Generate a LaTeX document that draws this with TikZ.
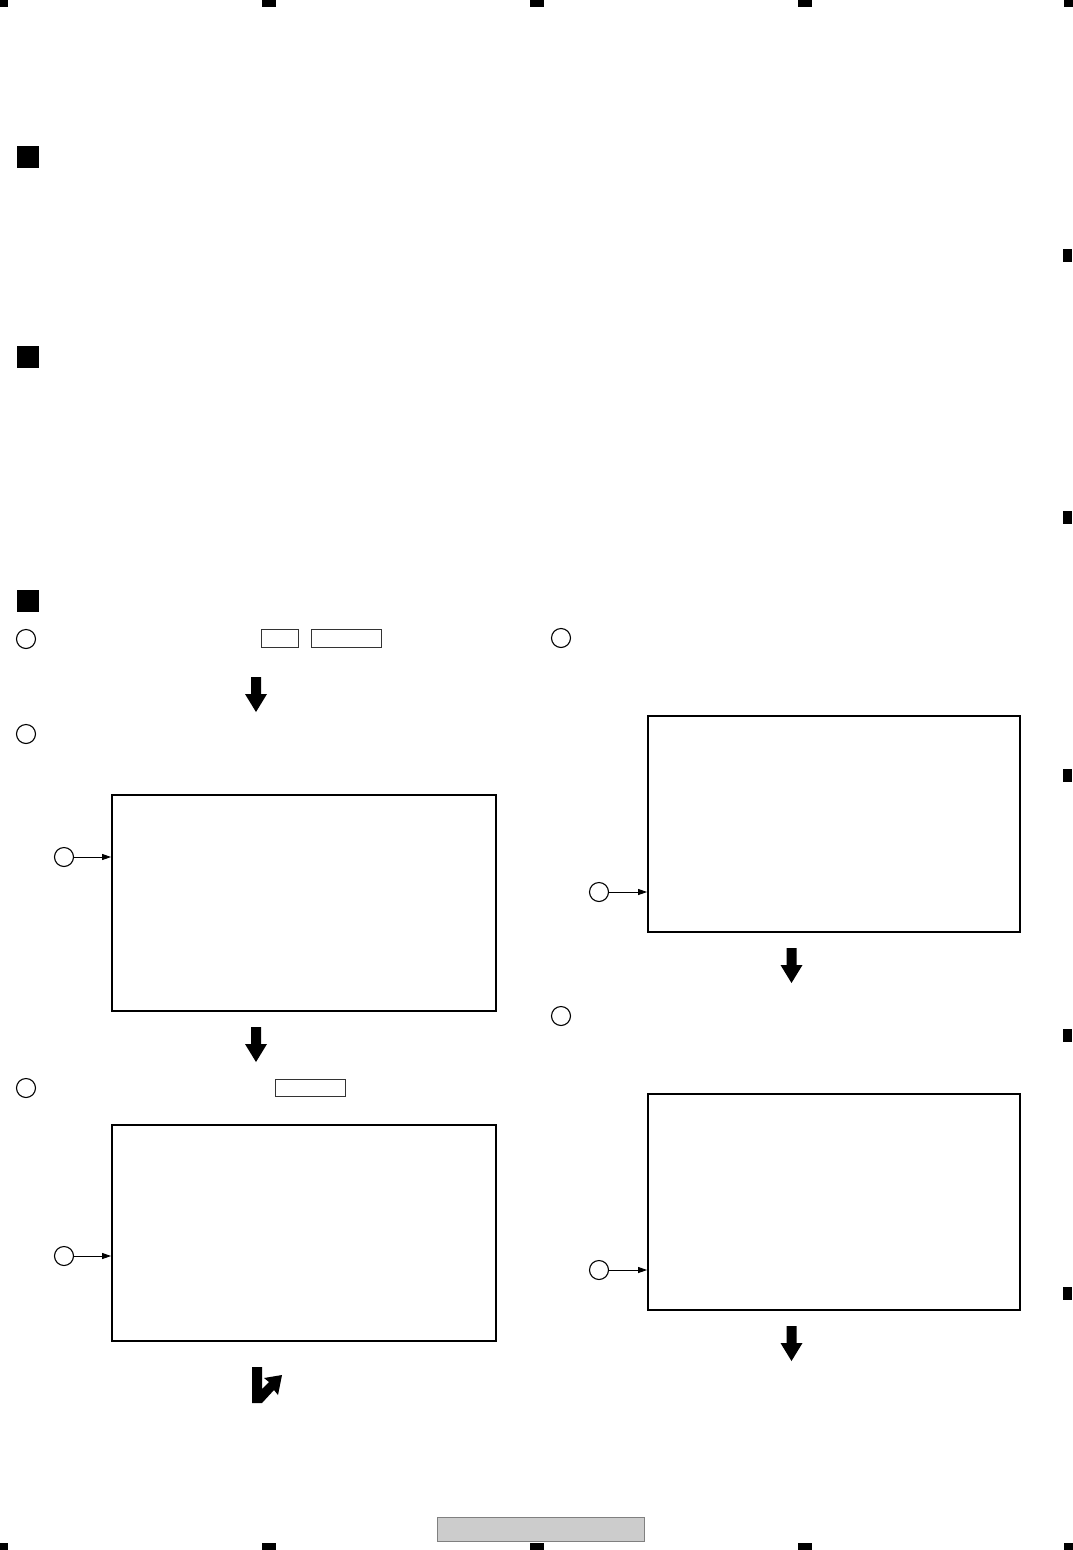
\documentclass[tikz,border=0pt]{standalone}
\usetikzlibrary{arrows.meta}
\begin{document}
\begin{tikzpicture}[x=1pt,y=-1pt,
  mark box/.style={fill=black},
  numcircle/.style={circle,draw=black,line width=1.1pt,minimum size=19pt,inner sep=0pt},
  panel/.style={draw=black,line width=1.8pt},
  keybox/.style={draw=black!80,line width=0.9pt},
  pointer/.style={line width=0.9pt,-{Triangle[length=9pt,width=6pt]}},
  blockarrow/.style={fill=black}]
\useasboundingbox (0,0) rectangle (1073,1550);
% registration marks top
\fill[mark box] (0,0) rectangle (8,7);
\fill[mark box] (262,0) rectangle (276,7);
\fill[mark box] (530,0) rectangle (544,7);
\fill[mark box] (798,0) rectangle (812,7);
\fill[mark box] (1064,0) rectangle (1073,7);
% bottom
\fill[mark box] (0,1543) rectangle (8,1550);
\fill[mark box] (262,1543) rectangle (276,1550);
\fill[mark box] (530,1543) rectangle (544,1550);
\fill[mark box] (798,1543) rectangle (812,1550);
\fill[mark box] (1064,1543) rectangle (1073,1550);
% right side
\foreach \yy in {255,517,775,1035,1293}{\fill[mark box] (1063,\yy-6.5) rectangle (1072,\yy+6.5);}
% section squares
\fill[mark box] (17,146) rectangle (39,168);
\fill[mark box] (17,346) rectangle (39,368);
\fill[mark box] (17,590) rectangle (39,612);
% numbered circles
\node[numcircle] (c1) at (26,639) {};
\node[numcircle] (c2) at (26,734) {};
\node[numcircle] (c3) at (26,1088) {};
\node[numcircle] (c4) at (561,638) {};
\node[numcircle] (c5) at (561,1016) {};
% key boxes
\node[keybox,minimum width=37pt,minimum height=18pt,inner sep=0pt] (k1) at (279.5,638) {};
\node[keybox,minimum width=70pt,minimum height=18pt,inner sep=0pt] (k2) at (346,638) {};
\node[keybox,minimum width=70pt,minimum height=17pt,inner sep=0pt] (k3) at (310,1087.5) {};
% panels
\node[panel,minimum width=384pt,minimum height=216pt,inner sep=0pt] (p1) at (304,903) {};
\node[panel,minimum width=384pt,minimum height=216pt,inner sep=0pt] (p2) at (304,1233) {};
\node[panel,minimum width=372pt,minimum height=216pt,inner sep=0pt] (p3) at (834,824) {};
\node[panel,minimum width=372pt,minimum height=216pt,inner sep=0pt] (p4) at (834,1202) {};
% pointer circles
\node[numcircle] (q1) at (64,857) {};
\node[numcircle] (q2) at (64,1256) {};
\node[numcircle] (q3) at (599,892) {};
\node[numcircle] (q4) at (599,1270) {};
\coordinate (t1) at (p1.west |- q1);
\coordinate (t2) at (p2.west |- q2);
\coordinate (t3) at (p3.west |- q3);
\coordinate (t4) at (p4.west |- q4);
\draw[pointer] (q1) -- (t1);
\draw[pointer] (q2) -- (t2);
\draw[pointer] (q3) -- (t3);
\draw[pointer] (q4) -- (t4);
% block down arrows
\foreach \cx/\ty in {256/677,256/1027,791.5/948,791.5/1326}{
  \fill[blockarrow] (\cx-5,\ty) -- (\cx+5,\ty) -- (\cx+5,\ty+17) -- (\cx+11,\ty+17)
     -- (\cx,\ty+35) -- (\cx-11,\ty+17) -- (\cx-5,\ty+17) -- cycle;
}
% bent arrow
\fill[blockarrow] (252,1367) -- (262,1367) -- (262,1389) -- (269,1382) -- (264,1378)
  -- (282,1375) -- (278,1395) -- (274,1390) -- (262,1403) -- (252,1403) -- cycle;
% bottom gray bar
\node[draw=black!50,fill=black!20,line width=0.9pt,minimum width=207pt,minimum height=24pt,inner sep=0pt] (bar) at (540.5,1529) {};
\end{tikzpicture}
\end{document}
